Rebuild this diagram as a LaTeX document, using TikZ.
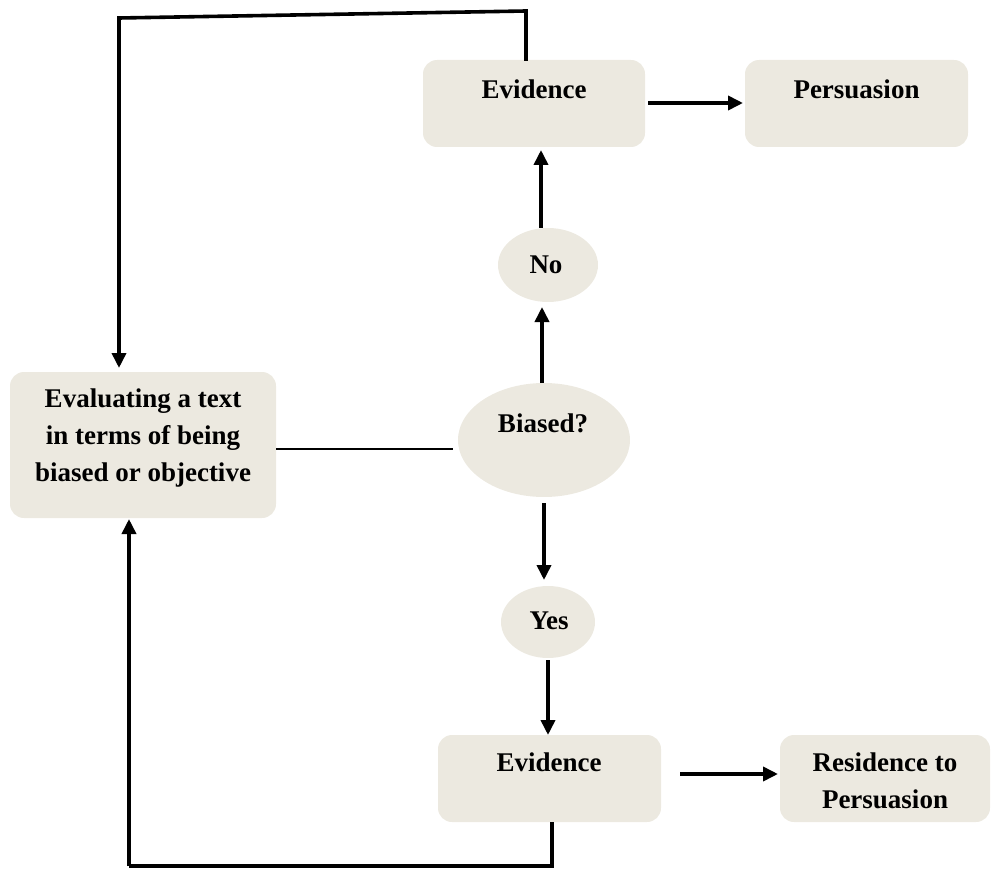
\documentclass[tikz,border=0pt]{standalone}
\usepackage{fontspec}
\setmainfont{Liberation Serif}
\usetikzlibrary{arrows.meta,shapes.geometric}
\definecolor{boxfill}{HTML}{ECE9E0}
\tikzset{
  card/.style={fill=boxfill, draw=none, rounded corners=14pt, inner sep=0pt},
  oval/.style={ellipse, fill=boxfill, draw=none, inner sep=0pt},
  lbl/.style={font=\fontsize{27}{37}\selectfont\bfseries, align=center, inner sep=0pt},
  flow/.style={line width=3.6pt, -{Triangle[length=15pt,width=14pt]}},
  loop/.style={line width=3.6pt},
  link/.style={line width=1.6pt}
}
\begin{document}
\begin{tikzpicture}[x=1pt, y=-1pt]
\useasboundingbox (0,0) rectangle (991,869);

% boxes and ovals
\node[card, minimum width=222pt, minimum height=87pt] (evtop) at (534,103.5) {};
\node[card, minimum width=223pt, minimum height=87pt] (pers) at (856.5,103.5) {};
\node[oval, minimum width=100pt, minimum height=74pt] (no) at (548,265) {};
\node[oval, minimum width=172pt, minimum height=114pt] (biased) at (544,440) {};
\node[card, minimum width=266pt, minimum height=146pt] (eval) at (143,445) {};
\node[oval, minimum width=94pt, minimum height=72pt] (yes) at (548,622) {};
\node[card, minimum width=223pt, minimum height=87pt] (evbot) at (549.5,778.5) {};
\node[card, minimum width=210pt, minimum height=87pt] (res) at (885,778.5) {};

% texts
\node[lbl] (tEvTop) at (534,89) {Evidence};
\node[lbl] (tPers) at (856.5,89) {Persuasion};
\node[lbl] (tNo) at (546,265) {No};
\node[lbl] (tBiased) at (543,423) {Biased?};
\node[lbl] (tEval) at (143,438) {Evaluating a text\\in terms of being\\biased or objective};
\node[lbl] (tYes) at (549,621) {Yes};
\node[lbl] (tEvBot) at (549,762) {Evidence};
\node[lbl] (tRes) at (885,781) {Residence to\\Persuasion};

% routing points
\coordinate (topR) at (526,11);
\coordinate (topL) at (119,18);
\coordinate (botR) at (552,866);
\coordinate (botL) at (129,866);

% connectors
\draw[flow] (542,383) -- (542,307);
\draw[flow] (541,228) -- (541,150);
\draw[flow] (648,103) -- (743,103);
\draw[flow] (544,503) -- (544,580);
\draw[flow] (548,660) -- (548,735);
\draw[flow] (680,774) -- (778,774);
\draw[link] (276,449) -- (453,449);
\draw[loop] (526,61) -- (topR) -- (topL) -- (119,50);
\draw[flow] (topL) -- (119,368);
\draw[loop] (552,822) -- (botR) -- (botL);
\draw[flow] (botL) -- (129,519);
\end{tikzpicture}
\end{document}
